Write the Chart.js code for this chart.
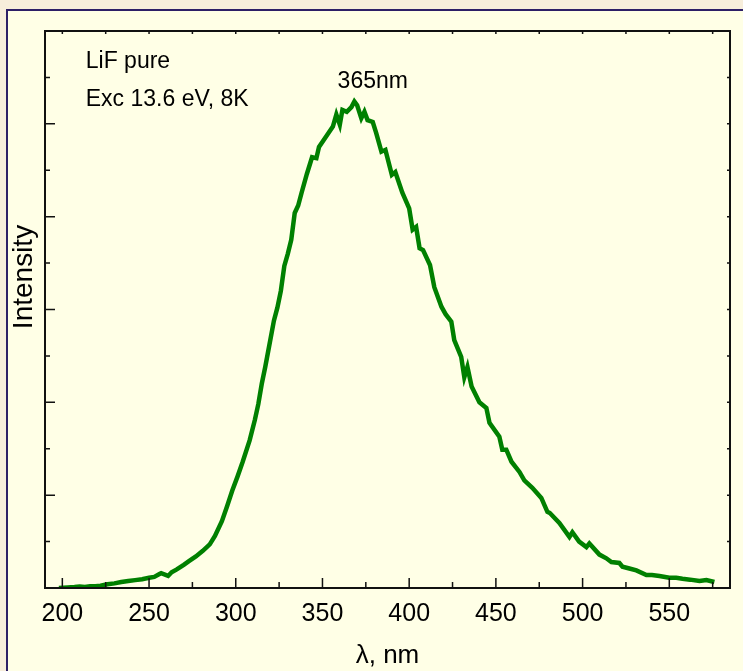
<!DOCTYPE html>
<html>
<head>
<meta charset="utf-8">
<script src="https://cdn.jsdelivr.net/npm/chart.js@4.4.1/dist/chart.umd.min.js"></script>
<style>
  html, body { margin: 0; padding: 0; background: #f7eedb; }
  body { width: 743px; height: 671px; position: relative; overflow: hidden; }
  .panel {
    position: absolute; left: 6px; top: 9px; width: 800px; height: 700px;
    background: #ffffe6; border-left: 2px solid #2d1f66; border-top: 2px solid #2d1f66;
  }
  #chart { position: absolute; left: 0; top: 0; }
</style>
</head>
<body>
<div class="panel"></div>
<canvas id="chart" width="743" height="671"></canvas>
<script>
// wavelength (nm) and luminescence intensity (arb. units)
const wavelengths = [198, 203, 207, 210, 213, 216, 219, 222, 226, 230, 234, 238, 242, 246, 250, 253, 256, 257, 261, 263,
  266, 270, 273, 277, 281, 285, 288, 292, 295, 298, 301, 304, 308, 311, 313, 315, 317, 319, 322, 324, 326, 328, 330, 332,
  334, 336, 338, 341, 344, 346.5, 348, 352, 356, 358, 360, 361.5, 364, 366.7, 368.4, 370, 372.4, 374.2, 376, 379, 381,
  384, 386.3, 390, 392, 396, 400, 402, 404, 406, 408, 412, 414.5, 418.6, 421, 424.3, 426, 430, 431.8, 433.6, 436, 440.5,
  444.5, 446.3, 452, 453.7, 456, 459, 463.6, 466.4, 471, 476.2, 479.7, 481, 486.6, 492.4, 494.1, 498, 502.2, 503.9,
  509.7, 513.7, 516.6, 521.2, 523, 527, 531, 536.8, 540, 544.3, 550, 554, 557.6, 562, 567.4, 571.4, 576];
const intensity = [0.00, 0.005, 0.01, 0.015, 0.01, 0.02, 0.02, 0.025, 0.04, 0.05, 0.065, 0.075, 0.085, 0.095, 0.11, 0.12, 0.15, 0.16, 0.13, 0.17,
  0.20, 0.25, 0.29, 0.34, 0.40, 0.47, 0.56, 0.72, 0.88, 1.05, 1.20, 1.36, 1.59, 1.81, 1.98, 2.20, 2.38, 2.58, 2.88, 3.02, 3.20, 3.47, 3.60, 3.75,
  4.04, 4.12, 4.26, 4.46, 4.64, 4.63, 4.75, 4.86, 4.97, 5.10, 4.99, 5.15, 5.13, 5.18, 5.24, 5.20, 5.06, 5.13, 5.04, 5.02, 4.90,
  4.70, 4.72, 4.45, 4.48, 4.26, 4.09, 3.86, 3.89, 3.66, 3.64, 3.48, 3.24, 3.03, 2.95, 2.87, 2.67, 2.49, 2.27, 2.38, 2.17, 2.00,
  1.94, 1.78, 1.63, 1.49, 1.49, 1.36, 1.25, 1.16, 1.08, 0.97, 0.82, 0.81, 0.70, 0.55, 0.60, 0.50, 0.44, 0.48,
  0.36, 0.32, 0.28, 0.27, 0.23, 0.21, 0.19, 0.14, 0.14, 0.13, 0.11, 0.11, 0.10, 0.09, 0.075, 0.086, 0.065];
const xTicks = [200, 225, 250, 275, 300, 325, 350, 375, 400, 425, 450, 475, 500, 525, 550, 575];
const yTicks = [0, 0.5, 1, 1.5, 2, 2.5, 3, 3.5, 4, 4.5, 5, 5.5, 6];

const font = '"Liberation Sans", Arial, sans-serif';

// inward ticks on all four sides plus the box, the way the original plot has them
const framePlugin = {
  id: 'frame',
  afterDatasetsDraw(chart) {
    const { ctx, chartArea: a, scales } = chart;
    ctx.save();
    ctx.strokeStyle = '#111';
    ctx.lineWidth = 1.5;
    ctx.beginPath();
    scales.x.ticks.forEach(t => {
      const px = scales.x.getPixelForValue(t.value);
      const major = t.value % 50 === 0;
      ctx.moveTo(px, a.bottom);
      ctx.lineTo(px, a.bottom - (major ? 10 : 6));
      ctx.moveTo(px, a.top);
      ctx.lineTo(px, a.top + 3);
    });
    scales.y.ticks.forEach(t => {
      const py = scales.y.getPixelForValue(t.value);
      const major = t.value % 1 === 0;
      ctx.moveTo(a.left, py);
      ctx.lineTo(a.left + (major ? 10 : 5), py);
      ctx.moveTo(a.right, py);
      ctx.lineTo(a.right - 3, py);
    });
    ctx.stroke();
    ctx.lineWidth = 2;
    ctx.strokeRect(a.left, a.top, a.right - a.left, a.bottom - a.top);

    // annotations
    ctx.fillStyle = '#000';
    ctx.textBaseline = 'alphabetic';
    ctx.font = '23px ' + font;
    ctx.textAlign = 'left';
    ctx.fillText('LiF pure', scales.x.getPixelForValue(213.5), scales.y.getPixelForValue(5.60));
    ctx.fillText('Exc 13.6 eV, 8K', scales.x.getPixelForValue(213.5), scales.y.getPixelForValue(5.19));
    ctx.textAlign = 'center';
    ctx.fillText('365nm', scales.x.getPixelForValue(379), scales.y.getPixelForValue(5.39));

    // vertical axis title
    ctx.translate(32, 277);
    ctx.rotate(-Math.PI / 2);
    ctx.font = '28px ' + font;
    ctx.textAlign = 'center';
    ctx.fillText('Intensity', 0, 0);
    ctx.restore();
  }
};

new Chart(document.getElementById('chart'), {
  type: 'line',
  data: {
    datasets: [{
      data: wavelengths.map((w, i) => ({ x: w, y: intensity[i] })),
      borderColor: '#008000',
      borderWidth: 4.5,
      pointRadius: 0,
      tension: 0,
      fill: false
    }]
  },
  options: {
    responsive: false,
    animation: false,
    layout: { padding: { left: 0, top: 31, right: 13, bottom: 0 } },
    plugins: { legend: { display: false }, tooltip: { enabled: false } },
    scales: {
      x: {
        type: 'linear',
        min: 190,
        max: 585,
        afterBuildTicks: s => { s.ticks = xTicks.map(v => ({ value: v })); },
        afterFit: s => { s.height = 83; },
        grid: { display: false },
        border: { display: false },
        ticks: {
          autoSkip: false,
          maxRotation: 0,
          padding: 3,
          color: '#000',
          font: { family: font, size: 25 },
          callback: v => (v % 50 === 0 ? v : '')
        },
        title: {
          display: true,
          text: 'λ, nm',
          color: '#000',
          font: { family: font, size: 26 },
          padding: { top: 0, bottom: 0 }
        }
      },
      y: {
        min: 0,
        max: 6,
        afterBuildTicks: s => { s.ticks = yTicks.map(v => ({ value: v })); },
        afterFit: s => { s.width = 45; },
        grid: { display: false },
        border: { display: false },
        ticks: { display: false }
      }
    }
  },
  plugins: [framePlugin]
});
</script>
</body>
</html>
